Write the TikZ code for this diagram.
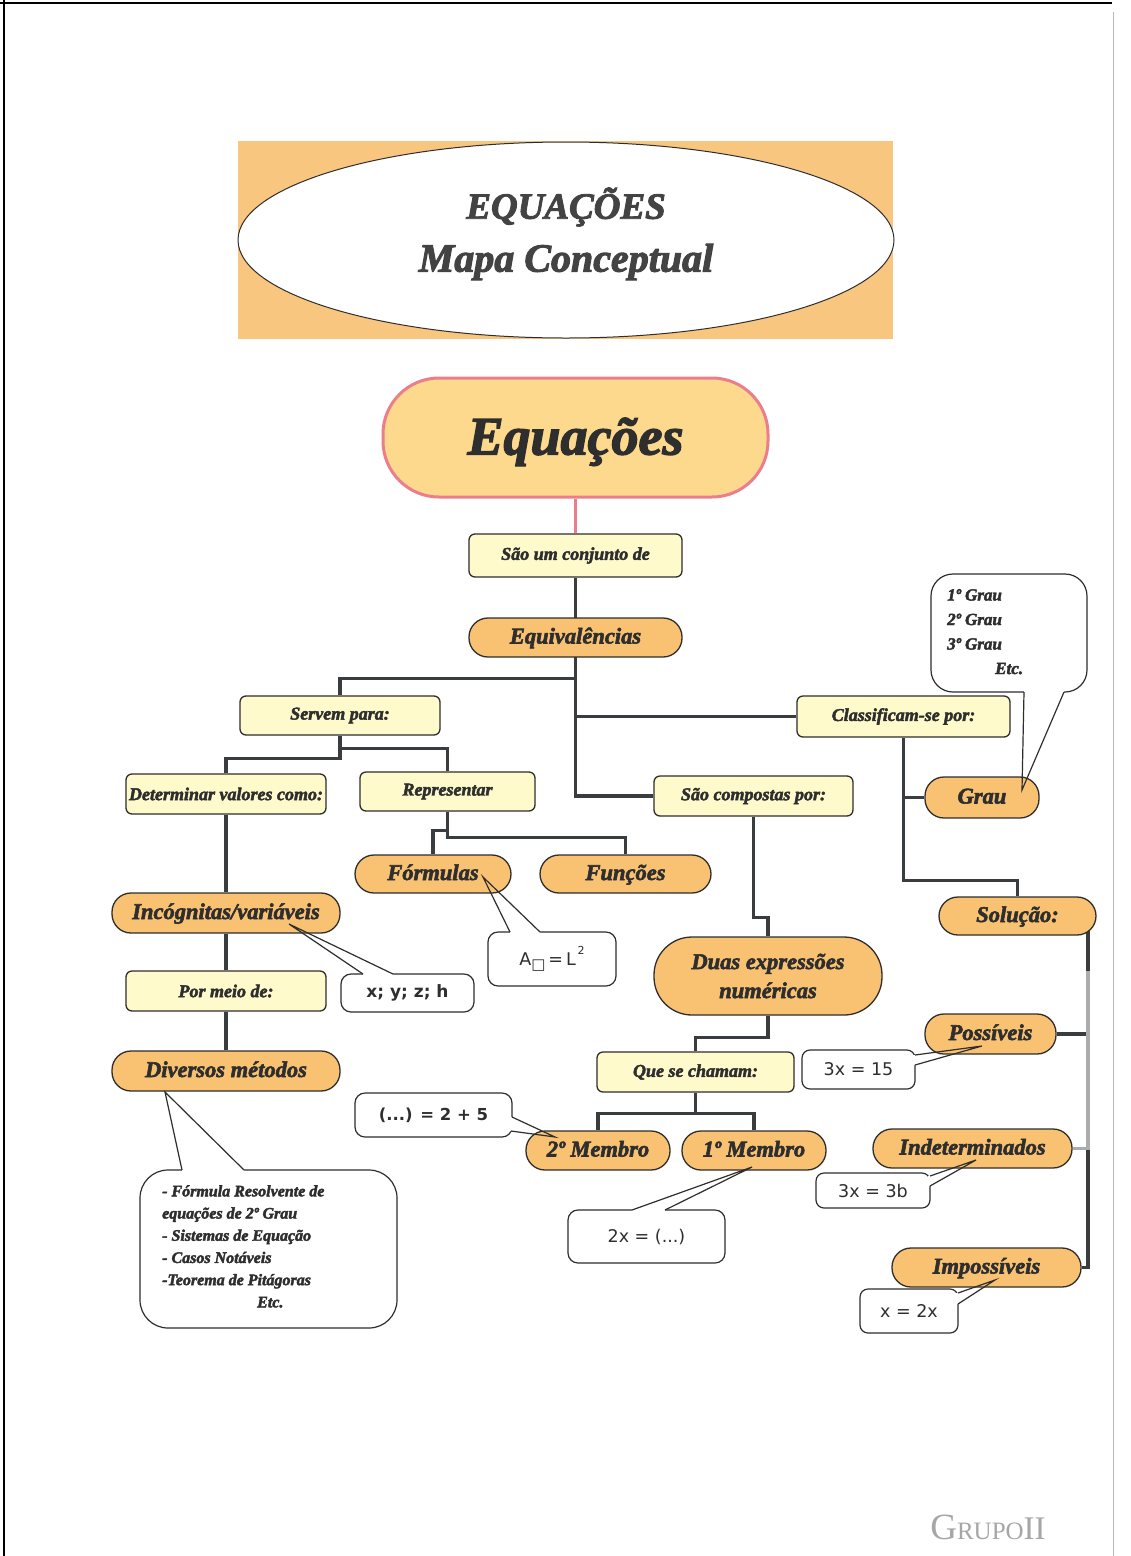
\documentclass[tikz,border=0pt]{standalone}
\usepackage{fontspec}
\usetikzlibrary{calc,backgrounds}
\newfontfamily\mapfont{Liberation Serif}[BoldItalicFeatures={FakeBold=2.5}]
\newfontfamily\eqfont{DejaVu Sans}
\newfontfamily\signfont{Liberation Serif}

\definecolor{ink}{HTML}{2E2E2E}
\definecolor{lineclr}{HTML}{3A3D40}
\definecolor{lightline}{HTML}{A9ADB0}
\definecolor{pillfill}{HTML}{F9C272}
\definecolor{boxfill}{HTML}{FFFACB}
\definecolor{headfill}{HTML}{FCD98C}
\definecolor{headedge}{HTML}{EC7E8C}
\definecolor{banner}{HTML}{F9C680}

% pointer of a speech-bubble box: erase the border between the two base points
\newcommand{\bubblegap}[4]{%
  \fill[white] ($#1+#4$) -- #1 -- #2 -- #3 -- ($#3+#4$) -- cycle;}

\begin{document}
\begin{tikzpicture}[x=1pt,y=-1pt,
  every node/.style={text=ink},
  sz/.style 2 args={minimum width=#1pt, minimum height=#2pt},
  base/.style={draw=ink, line width=1.3pt, inner sep=0pt, align=center},
  pill/.style={base, fill=pillfill, rounded corners=19pt,
    font=\mapfont\bfseries\itshape\fontsize{22.5}{29}\selectfont},
  onel/.style={text height=16pt, text depth=4pt},
  ybox/.style={base, fill=boxfill, rounded corners=6pt,
    font=\mapfont\bfseries\itshape\fontsize{18}{22}\selectfont},
  head/.style={draw=headedge, line width=3pt, fill=headfill, rounded corners=56pt,
    inner sep=0pt, text height=44pt, text depth=10pt,
    font=\mapfont\bfseries\itshape\fontsize{54}{60}\selectfont},
  callbox/.style={draw=ink, line width=1.2pt, fill=white, rounded corners=10pt,
    inner sep=0pt, font=\eqfont\fontsize{17.5}{20}\selectfont},
  calltext/.style={inner sep=0pt, anchor=north west, align=left,
    font=\mapfont\bfseries\itshape},
  link/.style={draw=lineclr, line width=3.5pt},
  pointer/.style={draw=ink, line width=1.2pt, line join=miter},
]
\useasboundingbox (0,0) rectangle (1131,1556);
\begin{pgfonlayer}{background}
\fill[white] (0,0) rectangle (1131,1556);
\end{pgfonlayer}

% sheet edges
\draw[black, line width=1.5pt] (4,0) -- (4,1556);
\draw[black, line width=1.5pt] (0,3) -- (1112,3);
\draw[gray!55, line width=1pt] (1113,12) -- (1113,1556);

% title banner
\fill[banner] (238,141) rectangle (893,339);
\draw[fill=white, line width=1pt, draw=ink] (566,240) ellipse [x radius=328pt, y radius=98pt];
\node[font=\mapfont\bfseries\itshape\fontsize{37}{40}\selectfont, text=ink!90] (t1) at (566,207) {EQUAÇÕES};
\node[font=\mapfont\bfseries\itshape\fontsize{40}{44}\selectfont, text=ink!90] (t2) at (566,262) {Mapa Conceptual};

% speech-bubble boxes (drawn below the concept nodes)
\node[callbox, sz={133}{38}, font=\eqfont\bfseries\fontsize{17}{20}\selectfont] (cxyz) at (407.5,993) {x; y; z; h};
\node[callbox, sz={128}{54}] (carea) at (552,959)
  {A\raisebox{-0.5ex}{\fontsize{15}{15}\selectfont □}\,=\,L\raisebox{1.1ex}{\fontsize{11}{11}\selectfont\,2}};
\node[callbox, sz={257}{158}, rounded corners=28pt] (cmet) at (268.5,1249) {};
\node[callbox, sz={157}{44}, font=\eqfont\bfseries\fontsize{16.5}{20}\selectfont] (c25) at (433.5,1115) {(...) = 2 + 5};
\node[callbox, sz={157}{53}] (c2x) at (646.5,1236.5) {2x = (...)};
\node[callbox, sz={113}{39}, rounded corners=8pt] (c315) at (858.5,1069.5) {3x = 15};
\node[callbox, sz={114}{35}, rounded corners=8pt] (c3b) at (873,1190.5) {3x = 3b};
\node[callbox, sz={98}{44}, rounded corners=8pt] (cx2x) at (909,1311) {x = 2x};
\node[callbox, sz={156}{118}, rounded corners=22pt] (cgrau) at (1009,633) {};

\node[calltext, font=\mapfont\bfseries\itshape\fontsize{17}{24.5}\selectfont] (grautxt) at (947,589)
  {1º Grau\\2º Grau\\3º Grau\\\hspace*{48pt}Etc.};
\node[calltext, font=\mapfont\bfseries\itshape\fontsize{16}{22.2}\selectfont] (mettxt) at (162,1185)
  {- Fórmula Resolvente de\\equações de 2º Grau\\- Sistemas de Equação\\- Casos Notáveis\\-Teorema de Pitágoras\\\hspace*{95pt}Etc.};

\bubblegap{(363,974)}{(289,924)}{(393,974)}{(0,2)}
\bubblegap{(510,932)}{(483,877)}{(540,932)}{(0,2)}
\bubblegap{(182,1170)}{(165,1092)}{(244,1170)}{(0,2)}
\bubblegap{(512,1117)}{(555,1137)}{(511,1131)}{(-2,0)}
\bubblegap{(632,1210)}{(752,1167)}{(665,1210)}{(0,2)}
\bubblegap{(915,1055)}{(982,1046)}{(915,1065)}{(-2,0)}
\bubblegap{(930,1176)}{(976,1160)}{(930,1186)}{(-2,0)}
\bubblegap{(958,1293)}{(995,1280)}{(958,1304)}{(-2,0)}
\bubblegap{(1024,692)}{(1022,790)}{(1064,692)}{(0,-2)}

% concept nodes
\node[head, sz={385}{119}] (equacoes) at (575.5,437.5) {Equações};
\node[ybox, sz={213}{43}] (saoum) at (575.5,555.5) {São um conjunto de};
\node[pill, onel, sz={213}{39}] (equiv) at (575.5,637.5) {Equivalências};
\node[ybox, sz={200}{39}] (servem) at (340,715.5) {Servem para:};
\node[ybox, sz={213}{41}] (classif) at (903.5,716.5) {Classificam-se por:};
\node[ybox, sz={200}{40}] (determ) at (226,794) {Determinar valores como:};
\node[ybox, sz={175}{39}] (repres) at (447.5,791.5) {Representar};
\node[ybox, sz={199}{40}] (saocomp) at (753.5,796) {São compostas por:};
\node[pill, onel, sz={114}{41}] (grau) at (982,797.5) {Grau};
\node[pill, onel, sz={156}{38}] (formulas) at (433,874) {Fórmulas};
\node[pill, onel, sz={171}{38}] (funcoes) at (625.5,874) {Funções};
\node[pill, onel, sz={228}{40}] (incog) at (226,913) {Incógnitas/variáveis};
\node[ybox, sz={200}{40}] (pormeio) at (226,991) {Por meio de:};
\node[pill, onel, sz={228}{40}] (diversos) at (226,1071) {Diversos métodos};
\node[pill, onel, sz={157}{38}] (solucao) at (1017.5,916) {Solução:};
\node[pill, sz={228}{78}, rounded corners=38pt] (duas) at (768,976) {Duas expressões\\numéricas};
\node[pill, onel, sz={131}{40}] (possiveis) at (990.5,1034) {Possíveis};
\node[ybox, sz={197}{40}] (quese) at (695.5,1072) {Que se chamam:};
\node[pill, onel, sz={144}{39}] (membro2) at (598,1150.5) {2º Membro};
\node[pill, onel, sz={144}{39}] (membro1) at (754,1150.5) {1º Membro};
\node[pill, onel, sz={199}{39}] (indet) at (972.5,1148.5) {Indeterminados};
\node[pill, onel, sz={189}{39}] (imposs) at (986.5,1267.5) {Impossíveis};

% bubble pointers on top
\draw[pointer] (363,974) -- (289,924) -- (393,974);
\draw[pointer] (510,932) -- (483,877) -- (540,932);
\draw[pointer] (182,1170) -- (165,1092) -- (244,1170);
\draw[pointer] (512,1117) -- (555,1137) -- (511,1131);
\draw[pointer] (632,1210) -- (752,1167) -- (665,1210);
\draw[pointer] (915,1055) -- (982,1046) -- (915,1065);
\draw[pointer] (930,1176) -- (976,1160) -- (930,1186);
\draw[pointer] (958,1293) -- (995,1280) -- (958,1304);
\draw[pointer] (1024,692) -- (1022,790) -- (1064,692);

% signature
\node[font=\signfont, text=gray!70, inner sep=0pt] (grupo) at (988,1527)
  {{\fontsize{37}{37}\selectfont G}{\fontsize{25}{25}\selectfont RUPO}{\fontsize{33}{33}\selectfont II}};

% connectors
\begin{pgfonlayer}{background}
\draw[draw=headedge, line width=3pt] (equacoes.south) -- (saoum.north);
\draw[link] (saoum.south) -- (equiv.south);
\draw[link] (equiv.south) |- (saocomp.west);
\coordinate (j1) at ($(equiv.south)+(0,21)$);
\draw[link] (j1) -| (servem.north);
\draw[link] (equiv.south |- classif.west) -- (classif.west);
\draw[link] (servem.south) -- ++(0,13) -| (repres.north);
\draw[link] (servem.south) -- ++(0,23) -| (determ.north);
\draw[link] (determ.south) -- (incog.north);
\draw[link] (incog.south) -- (pormeio.north);
\draw[link] (pormeio.south) -- (diversos.north);
\draw[link] (repres.south) -- ++(0,19) -| (formulas.north);
\draw[link] (repres.south) -- ++(0,26) -| (funcoes.north);
\draw[link] (classif.south) -- ++(0,143) -| (solucao.north);
\draw[link] (classif.south |- grau.west) -- (grau.west);
\draw[link] (saocomp.south) -- ++(0,101) -| (duas.north);
\draw[link] (duas.south) -- ++(0,22) -| (quese.north);
\draw[link] (quese.south) -- ++(0,21) -| (membro2.north);
\draw[link] (quese.south) -- ++(0,21) -| (membro1.north);
\coordinate (trk) at (1088,931);
\draw[link] (trk) |- (imposs.east);
\draw[link] (trk |- possiveis.east) -- (possiveis.east);
\draw[link, draw=lightline] ($(trk)+(0,40)$) -- (trk |- indet.east) -- (indet.east);
\end{pgfonlayer}
\end{tikzpicture}
\end{document}
